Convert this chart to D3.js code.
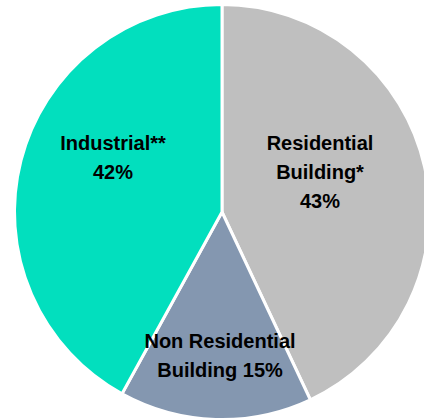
<!DOCTYPE html>
<html>
<head>
<meta charset="utf-8">
<script src="https://cdn.jsdelivr.net/npm/d3@7/dist/d3.min.js"></script>
<style>
  html, body { margin: 0; padding: 0; background: #ffffff; }
  svg { display: block; }
  .lbl { font-family: "Liberation Sans", Arial, sans-serif; font-weight: bold; font-size: 20px; fill: #000; }
</style>
</head>
<body>
<svg id="chart" width="424" height="420"></svg>
<script>
// Share of construction by segment (percent)
const categories = ["Residential Building*", "Non Residential Building", "Industrial**"];
const values = [43, 15, 42];
const colors = ["#bfbfbf", "#8497b0", "#02dfbe"];
// Label text, broken into lines as displayed
const labelLines = [
  ["Residential", "Building*", "43%"],
  ["Non Residential", "Building 15%"],
  ["Industrial**", "42%"]
];

const width = 424, height = 420;
const cx = 222, cy = 212, radius = 207.5;

const svg = d3.select("#chart");
const g = svg.append("g").attr("transform", `translate(${cx},${cy})`);

const pie = d3.pie().sort(null).value(d => d.value).startAngle(0).endAngle(2 * Math.PI);
const arc = d3.arc().innerRadius(0).outerRadius(radius);

const data = categories.map((c, i) => ({ name: c, value: values[i], color: colors[i], lines: labelLines[i] }));
const arcs = pie(data);

g.selectAll("path.slice")
  .data(arcs)
  .join("path")
  .attr("class", "slice")
  .attr("d", arc)
  .attr("fill", d => d.data.color)
  .attr("stroke", "#ffffff")
  .attr("stroke-width", 3)
  .attr("stroke-linejoin", "miter");

// Label anchor placement relative to the pie centre (centre of the first line's baseline)
const labelAnchors = [
  { dx: 98, dy: -62 },
  { dx: -2, dy: 136 },
  { dx: -109, dy: -62 }
];
const lineHeight = 28.8;

const labels = g.selectAll("text.lbl")
  .data(arcs)
  .join("text")
  .attr("class", "lbl")
  .attr("text-anchor", "middle")
  .attr("transform", (d, i) => `translate(${labelAnchors[i].dx},${labelAnchors[i].dy})`);

labels.selectAll("tspan")
  .data(d => d.data.lines)
  .join("tspan")
  .attr("x", 0)
  .attr("y", (t, j) => j * lineHeight)
  .text(t => t);
</script>
</body>
</html>
